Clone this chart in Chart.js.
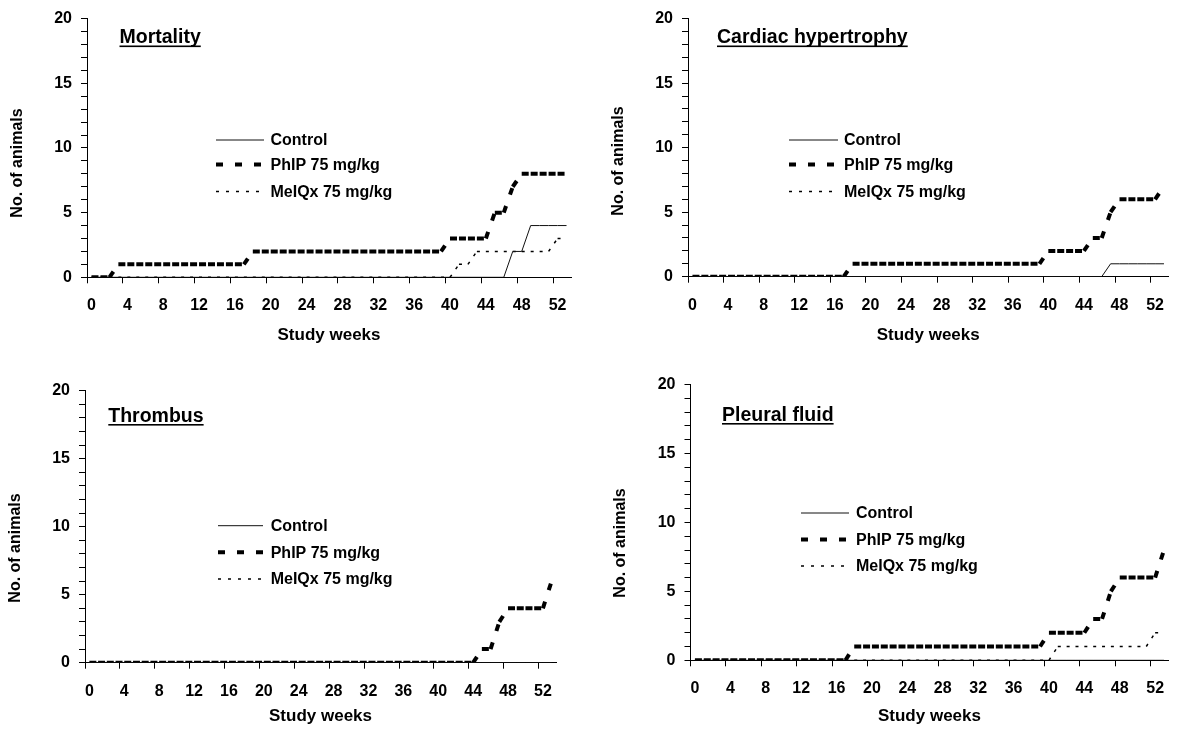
<!DOCTYPE html>
<html><head><meta charset="utf-8">
<script src="https://cdn.jsdelivr.net/npm/chart.js@4.4.1/dist/chart.umd.min.js"></script>
<style>
html,body{margin:0;padding:0;background:#fff;width:1177px;height:729px;overflow:hidden;}
.panel{position:absolute;}
canvas{display:block;}
</style></head><body>
<div class="panel" style="left:0px;top:0px"><canvas id="c1" width="588" height="366"></canvas></div>
<div class="panel" style="left:588px;top:0px"><canvas id="c2" width="589" height="366"></canvas></div>
<div class="panel" style="left:0px;top:366px"><canvas id="c3" width="588" height="363"></canvas></div>
<div class="panel" style="left:588px;top:366px"><canvas id="c4" width="589" height="363"></canvas></div>
<script>
// ---- data ----
const weeks = [0,1,2,3,4,5,6,7,8,9,10,11,12,13,14,15,16,17,18,19,20,21,22,23,24,25,26,27,28,29,30,31,32,33,34,35,36,37,38,39,40,41,42,43,44,45,46,47,48,49,50,51,52,53];
const seriesNames = ['Control', 'PhIP 75 mg/kg', 'MeIQx 75 mg/kg'];
const panelTitles = ['Mortality', 'Cardiac hypertrophy', 'Thrombus', 'Pleural fluid'];
const xAxisTitle = 'Study weeks';
const yAxisTitle = 'No. of animals';
const yMin = 0, yMax = 20, yMajorStep = 5, xLabelEvery = 4;

const mortalityControl = [0,0,0,0,0,0,0,0,0,0, 0,0,0,0,0,0,0,0,0,0, 0,0,0,0,0,0,0,0,0,0, 0,0,0,0,0,0,0,0,0,0, 0,0,0,0,0,0,0,2,2,4, 4,4,4,4];
const mortalityPhIP    = [0,0,0,1,1,1,1,1,1,1, 1,1,1,1,1,1,1,1,2,2, 2,2,2,2,2,2,2,2,2,2, 2,2,2,2,2,2,2,2,2,2, 3,3,3,3,3,5,5,7,8,8, 8,8,8,8];
const mortalityMeIQx   = [0,0,0,0,0,0,0,0,0,0, 0,0,0,0,0,0,0,0,0,0, 0,0,0,0,0,0,0,0,0,0, 0,0,0,0,0,0,0,0,0,0, 0,1,1,2,2,2,2,2,2,2, 2,2,3,3];

const cardiacControl = [0,0,0,0,0,0,0,0,0,0, 0,0,0,0,0,0,0,0,0,0, 0,0,0,0,0,0,0,0,0,0, 0,0,0,0,0,0,0,0,0,0, 0,0,0,0,0,0,0,1,1,1, 1,1,1,1];
const cardiacPhIP    = [0,0,0,0,0,0,0,0,0,0, 0,0,0,0,0,0,0,0,1,1, 1,1,1,1,1,1,1,1,1,1, 1,1,1,1,1,1,1,1,1,1, 2,2,2,2,2,3,3,5,6,6, 6,6,6,7];
const cardiacMeIQx   = [0,0,0,0,0,0,0,0,0,0, 0,0,0,0,0,0,0,0,0,0, 0,0,0,0,0,0,0,0,0,0, 0,0,0,0,0,0,0,0,0,0, 0,0,0,0,0,0,0,0,0,0, 0,0,0,0];

const thrombusControl = [0,0,0,0,0,0,0,0,0,0, 0,0,0,0,0,0,0,0,0,0, 0,0,0,0,0,0,0,0,0,0, 0,0,0,0,0,0,0,0,0,0, 0,0,0,0,0,0,0,0,0,0, 0,0,0,0];
const thrombusPhIP    = [0,0,0,0,0,0,0,0,0,0, 0,0,0,0,0,0,0,0,0,0, 0,0,0,0,0,0,0,0,0,0, 0,0,0,0,0,0,0,0,0,0, 0,0,0,0,0,1,1,3,4,4, 4,4,4,6];
const thrombusMeIQx   = [0,0,0,0,0,0,0,0,0,0, 0,0,0,0,0,0,0,0,0,0, 0,0,0,0,0,0,0,0,0,0, 0,0,0,0,0,0,0,0,0,0, 0,0,0,0,0,0,0,0,0,0, 0,0,0,0];

const pleuralControl = [0,0,0,0,0,0,0,0,0,0, 0,0,0,0,0,0,0,0,0,0, 0,0,0,0,0,0,0,0,0,0, 0,0,0,0,0,0,0,0,0,0, 0,0,0,0,0,0,0,0,0,0, 0,0,0,0];
const pleuralPhIP    = [0,0,0,0,0,0,0,0,0,0, 0,0,0,0,0,0,0,0,1,1, 1,1,1,1,1,1,1,1,1,1, 1,1,1,1,1,1,1,1,1,1, 2,2,2,2,2,3,3,5,6,6, 6,6,6,8];
const pleuralMeIQx   = [0,0,0,0,0,0,0,0,0,0, 0,0,0,0,0,0,0,0,0,0, 0,0,0,0,0,0,0,0,0,0, 0,0,0,0,0,0,0,0,0,0, 0,1,1,1,1,1,1,1,1,1, 1,1,2,2];

// ---- layout (page coordinates) ----
const panels = [
  { id:'c1', left:0,   top:0,   w:588, h:366, axisX:87,    plotTop:16.5, plotBottom:277.3, plotRight:571,
    title:panelTitles[0], titleX:119.5, titleBase:43.3, underY:45.5,
    legX1:216, legX2:264, legTextX:270.5, legY:[141,165.5,192.5],
    yTitleX:18, yTitleY:163, xTitleY:335,
    data:[mortalityControl, mortalityPhIP, mortalityMeIQx] },
  { id:'c2', left:588, top:0,   w:589, h:366, axisX:688,   plotTop:14,   plotBottom:276.7, plotRight:1175,
    title:panelTitles[1], titleX:717, titleBase:43.3, underY:45.5,
    legX1:789, legX2:838, legTextX:844, legY:[141,165.5,192.5],
    yTitleX:619, yTitleY:161, xTitleY:335,
    data:[cardiacControl, cardiacPhIP, cardiacMeIQx] },
  { id:'c3', left:0,   top:366, w:588, h:363, axisX:85,    plotTop:390.7, plotBottom:662.7, plotRight:556,
    title:panelTitles[2], titleX:108.3, titleBase:421.7, underY:424,
    legX1:218, legX2:263, legTextX:270.7, legY:[526.7,553.3,580],
    yTitleX:16, yTitleY:548, xTitleY:716,
    data:[thrombusControl, thrombusPhIP, thrombusMeIQx] },
  { id:'c4', left:588, top:366, w:589, h:363, axisX:690.5, plotTop:380.5, plotBottom:660.3, plotRight:1175.4,
    title:panelTitles[3], titleX:722, titleBase:420.5, underY:423,
    legX1:801, legX2:849, legTextX:856, legY:[514,540.5,567],
    yTitleX:621, yTitleY:543, xTitleY:716.5,
    data:[pleuralControl, pleuralPhIP, pleuralMeIQx] }
];

const FONT = '"Liberation Sans", Arial, Helvetica, sans-serif';
Chart.defaults.font.family = FONT;
Chart.defaults.font.weight = 'bold';
Chart.defaults.color = '#000';

const seriesStyles = [
  { borderColor:'#111', borderWidth:1,   borderDash:[] },
  { borderColor:'#000', borderWidth:4,   borderDash:[7,12] },
  { borderColor:'#000', borderWidth:1.5, borderDash:[3,7] }
];

function drawPanelText(chart, p) {
  const c = chart.ctx;
  const ox = p.left, oy = p.top;
  c.save();
  c.fillStyle = '#000';
  // panel title, underlined
  c.font = 'bold 19.5px ' + FONT;
  c.textAlign = 'left';
  c.textBaseline = 'alphabetic';
  c.fillText(p.title, p.titleX - ox, p.titleBase - oy);
  const tw = c.measureText(p.title).width;
  c.fillRect(p.titleX - ox, p.underY - oy, tw, 1.6);
  // legend
  c.font = 'bold 16px ' + FONT;
  c.textBaseline = 'middle';
  chart.data.datasets.forEach((ds, i) => {
    const y = p.legY[i] - oy - 1;
    c.beginPath();
    c.setLineDash(ds.borderDash || []);
    c.lineDashOffset = 0;
    c.lineWidth = ds.borderWidth;
    c.strokeStyle = ds.borderColor;
    c.moveTo(p.legX1 - ox, y);
    c.lineTo(p.legX2 - ox, y);
    c.stroke();
    c.fillText(ds.label, p.legTextX - ox, p.legY[i] - oy);
  });
  c.setLineDash([]);
  // y axis title
  c.font = 'bold 16px ' + FONT;
  c.translate(p.yTitleX - ox, p.yTitleY - oy);
  c.rotate(-Math.PI / 2);
  c.textAlign = 'center';
  c.textBaseline = 'middle';
  c.fillText(yAxisTitle, 0, 0);
  c.restore();
}

function buildChart(p) {
  const xTitleSize = 17;
  const xScaleH = p.h - (p.plotBottom - p.top);
  const xTitlePadBottom = (p.top + p.h) - p.xTitleY - xTitleSize * 1.2 / 2;
  const datasets = p.data.map((vals, i) => {
    const st = seriesStyles[i];
    const ds = {
      label: seriesNames[i], data: vals,
      borderColor: st.borderColor, borderWidth: st.borderWidth, borderDash: st.borderDash,
      pointRadius: 0, pointHoverRadius: 0, tension: 0, fill: false
    };
    if (i > 0) {
      // restart the dash pattern on every weekly segment
      ds.segment = {
        borderDash: () => st.borderDash,
        borderDashOffset: ctx => (ctx.p0DataIndex % 2 ? 0.0001 : 0)
      };
    }
    return ds;
  });
  return new Chart(document.getElementById(p.id), {
    type: 'line',
    data: { labels: weeks, datasets },
    options: {
      responsive: false, animation: false, devicePixelRatio: 1,
      layout: { padding: { left: 0, top: p.plotTop - p.top, right: (p.left + p.w) - p.plotRight, bottom: 0 } },
      plugins: { legend: { display: false }, tooltip: { enabled: false }, title: { display: false } },
      scales: {
        x: {
          type: 'category', offset: true,
          grid: { offset: true, drawOnChartArea: false, drawTicks: true, tickLength: 6, tickWidth: 1,
                  tickColor: c => (c.index !== undefined && c.index % xLabelEvery === 0) ? '#000' : 'rgba(0,0,0,0)' },
          border: { display: true, color: '#000', width: 1 },
          ticks: { autoSkip: false, maxRotation: 0, minRotation: 0, padding: 13, color: '#000',
                   font: { size: 16, weight: 'bold' },
                   callback: (v, i) => (i % xLabelEvery === 0 ? String(weeks[i]) : '') },
          title: { display: true, text: xAxisTitle, color: '#000', font: { size: xTitleSize, weight: 'bold' },
                   padding: { top: 0, bottom: xTitlePadBottom } },
          afterFit: s => { s.height = xScaleH; }
        },
        y: {
          type: 'linear', min: yMin, max: yMax,
          grid: { drawOnChartArea: false, drawTicks: true, tickLength: 6, tickWidth: 1, tickColor: '#000' },
          border: { display: true, color: '#000', width: 1 },
          ticks: { stepSize: 1, autoSkip: false, padding: 9, color: '#000', font: { size: 16, weight: 'bold' },
                   callback: v => (v % yMajorStep === 0 ? String(v) : '') },
          afterFit: s => { s.width = p.axisX - p.left; }
        }
      }
    },
    plugins: [{ id: 'panelText', afterDraw: chart => drawPanelText(chart, p) }]
  });
}

panels.forEach(buildChart);
</script>
</body></html>
